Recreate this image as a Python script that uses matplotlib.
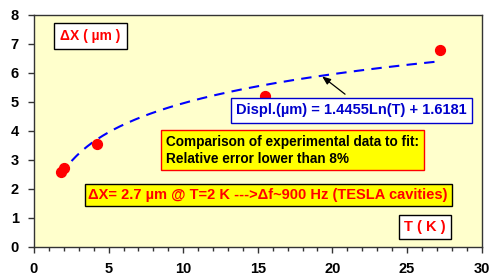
import numpy as np
import matplotlib
matplotlib.use("Agg")
import matplotlib.pyplot as plt
from matplotlib.ticker import MultipleLocator

# measured points
temp_k = [1.8, 2.0, 4.2, 15.5, 27.2]
displ_um = [2.57, 2.7, 3.55, 5.2, 6.78]

# logarithmic fit shown on the chart
fit_a = 1.4455
fit_b = 1.6181

plt.rcParams['font.family'] = ['Liberation Sans', 'DejaVu Sans']
plt.rcParams['font.weight'] = 'bold'

fig = plt.figure(figsize=(4.91, 2.8), dpi=100)
ax = fig.add_axes([34/491, 1 - 246.7/280, 447.5/491, 232/280])
ax.set_facecolor('#FFFFCC')

t_fit = np.linspace(min(temp_k), max(temp_k), 200)
ax.plot(t_fit, fit_a * np.log(t_fit) + fit_b, color='#0000FF', lw=1.5,
        dashes=(5, 3.5), zorder=2)
ax.scatter(temp_k, displ_um, s=50, color='#FF0000', zorder=3)

ax.set_xlim(0, 30)
ax.set_ylim(0, 8)
ax.xaxis.set_major_locator(MultipleLocator(5))
ax.xaxis.set_minor_locator(MultipleLocator(1))
ax.yaxis.set_major_locator(MultipleLocator(1))
ax.tick_params(axis='both', which='both', direction='out', width=1, color='#333333')
ax.tick_params(axis='x', which='major', length=4, labelsize=10.5, pad=7)
ax.tick_params(axis='x', which='minor', length=3)
ax.tick_params(axis='y', length=4, labelsize=10.5, pad=7)
for lbl in ax.get_xticklabels() + ax.get_yticklabels():
    lbl.set_fontweight('bold')
for sp in ax.spines.values():
    sp.set_color('#333333')
    sp.set_linewidth(1)

ax.text(1.75, 7.27, 'ΔX ( µm )', color='#FF0000', fontsize=10, fontweight='bold',
        va='center', ha='left',
        bbox=dict(boxstyle='square,pad=0.45', fc='white', ec='black', lw=1))
ax.text(21.3, 4.7, 'Displ.(µm) = 1.4455Ln(T) + 1.6181', color='#0000CC',
        fontsize=10.5, fontweight='bold', va='center', ha='center',
        bbox=dict(boxstyle='square,pad=0.35', fc='white', ec='#0000CC', lw=1))
ax.annotate('', xy=(19.17, 5.93), xytext=(21.0, 5.2),
            arrowprops=dict(arrowstyle='-|>,head_length=0.5,head_width=0.2',
                            color='black', lw=0.9))
ax.text(8.85, 3.33, 'Comparison of experimental data to fit:\nRelative error lower than 8%',
        color='black', fontsize=9.8, fontweight='bold', va='center', ha='left',
        linespacing=1.25,
        bbox=dict(boxstyle='square,pad=0.35', fc='#FFFF00', ec='#FF0000', lw=1))
ax.text(15.7, 1.78, 'ΔX= 2.7 µm @ T=2 K --->Δf~900 Hz (TESLA cavities)',
        color='#FF0000', fontsize=10.5, fontweight='bold', va='center', ha='center',
        bbox=dict(boxstyle='square,pad=0.25', fc='#FFFF00', ec='black', lw=1))
ax.text(26.2, 0.68, 'T ( K )', color='#FF0000', fontsize=10.5, fontweight='bold',
        va='center', ha='center',
        bbox=dict(boxstyle='square,pad=0.35', fc='white', ec='black', lw=1))

fig.savefig('out.png', dpi=100)
